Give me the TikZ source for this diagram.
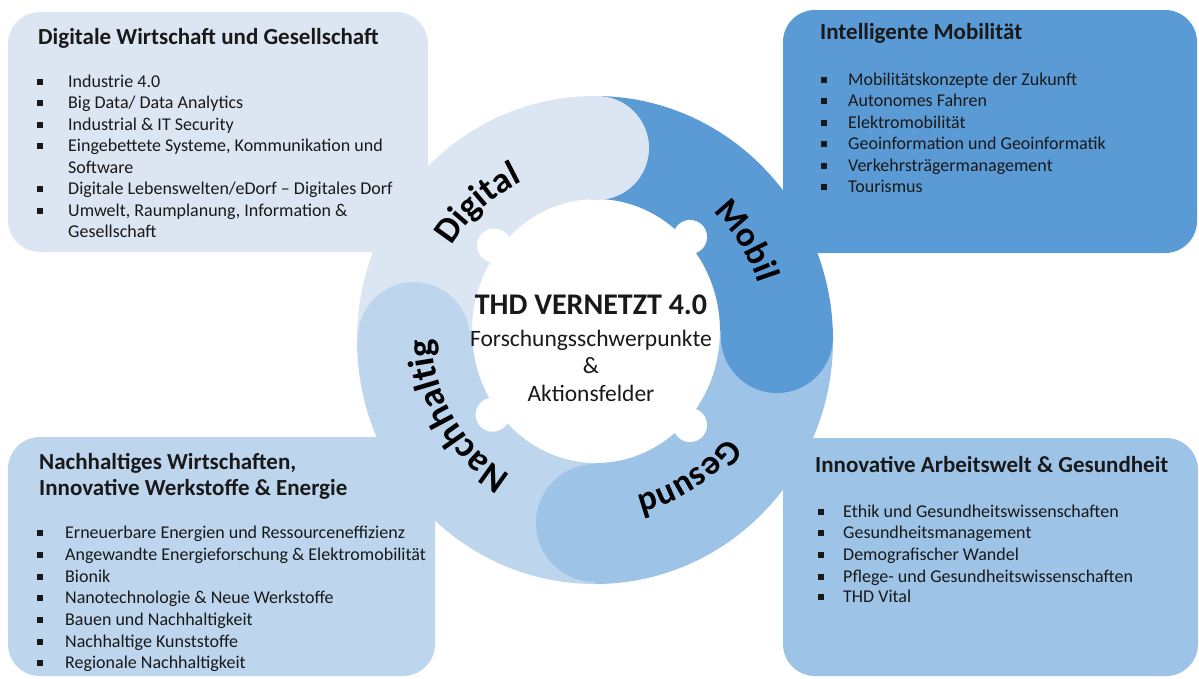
\documentclass[tikz,border=0pt]{standalone}
\usepackage{fontspec}
\setmainfont{Carlito}
\usetikzlibrary{decorations.text,calc}
\definecolor{cDig}{RGB}{220,230,242}
\definecolor{cMob}{RGB}{91,155,213}
\definecolor{cGes}{RGB}{157,195,230}
\definecolor{cNach}{RGB}{189,214,238}
\definecolor{txt}{RGB}{25,25,25}
\newcommand\li[5]{\node[lt] (#1) at (#2,-#3) {\makebox[#4][l]{\rule[2.5pt]{6pt}{6pt}}#5};}
\newcommand\lc[5]{\node[lt] (#1) at (#2,-#3) {\hspace*{#4}#5};}
\begin{document}
\begin{tikzpicture}[x=1pt,y=1pt,
  lt/.style={anchor=base west, inner sep=0pt, font=\fontsize{18}{18}\selectfont, text=txt},
  tt/.style={anchor=base west, inner sep=0pt, font=\fontsize{23}{23}\selectfont\bfseries, text=txt},
  ct/.style={anchor=base, inner sep=0pt, text=txt},
  ringlabel/.style 2 args={decorate, decoration={text along path, text align=center, text={|\fontsize{#1}{#1}\selectfont\bfseries|#2}}}]
\useasboundingbox (0,0) rectangle (1199,-678);
\fill[white] (0,0) rectangle (1199,-678);
% boxes
\fill[cDig, rounded corners=32pt] (8,-12) rectangle (428,-252);
\fill[cMob, rounded corners=32pt] (783,-10) rectangle (1197,-253);
\fill[cNach, rounded corners=32pt] (8,-437) rectangle (435,-676);
\fill[cGes, rounded corners=32pt] (783,-438) rectangle (1198,-676);
% ring: outer ellipse around O, inner ellipse around I
\coordinate (O) at (595,-340);
\coordinate (I) at (596,-331);
\fill[cDig] ($(O)+(-238,0)$) arc[start angle=180,end angle=90,x radius=238,y radius=244] -- ($(I)+(0,132)$) arc[start angle=90,end angle=180,x radius=124,y radius=132] -- cycle;
\fill[cMob] ($(O)+(0,244)$) arc[start angle=90,end angle=0,x radius=238,y radius=244] -- ($(I)+(124,0)$) arc[start angle=0,end angle=90,x radius=124,y radius=132] -- cycle;
\fill[cGes] ($(O)+(238,0)$) arc[start angle=0,end angle=-90,x radius=238,y radius=244] -- ($(I)+(0,-132)$) arc[start angle=-90,end angle=0,x radius=124,y radius=132] -- cycle;
\fill[cNach] ($(O)+(0,-244)$) arc[start angle=-90,end angle=-180,x radius=238,y radius=244] -- ($(I)+(-124,0)$) arc[start angle=-180,end angle=-90,x radius=124,y radius=132] -- cycle;
\fill[cDig] (597,-148) circle[radius=52];
\fill[cMob] (777,-337) circle[radius=56];
\fill[cGes] (595,-523) circle[radius=59];
\fill[cNach] (414,-338) circle[radius=56];
\foreach \a in {140,45,-45,-141}{\fill[white] ($(I)+(\a:133)$) circle[radius=17];}
% ring labels
\coordinate (L) at (596,-335);
\path[ringlabel={36}{Digital}] ($(L)+(166:170)$) arc[start angle=166,end angle=98,radius=170];
\path[ringlabel={35}{Mobil}] ($(L)+(64:170)$) arc[start angle=64,end angle=0,radius=170];
\path[ringlabel={35}{Gesund}] ($(L)+(-25:166)$) arc[start angle=-25,end angle=-89,radius=166];
\path[ringlabel={37}{Nachhaltig}] ($(L)+(245:164)$) arc[start angle=245,end angle=175,radius=164];
% center text
\node[ct, font=\fontsize{30}{30}\selectfont\bfseries] (c1) at (591,-314.5) {THD VERNETZT 4.0};
\node[ct, font=\fontsize{23.5}{23.5}\selectfont] (c2) at (591,-346) {Forschungsschwerpunkte};
\node[ct, font=\fontsize{23.5}{23.5}\selectfont] (c3) at (591,-373) {\&};
\node[ct, font=\fontsize{23.5}{23.5}\selectfont] (c4) at (591,-401) {Aktionsfelder};
% top-left
\node[tt] (t1) at (38,-44) {Digitale Wirtschaft und Gesellschaft};
\li{a1}{37}{87}{31pt}{Industrie 4.0}
\li{a2}{37}{108.5}{31pt}{Big Data/ Data Analytics}
\li{a3}{37}{130}{31pt}{Industrial \& IT Security}
\li{a4}{37}{151.5}{31pt}{Eingebettete Systeme, Kommunikation und}
\lc{a4b}{37}{173}{31pt}{Software}
\li{a5}{37}{194.5}{31pt}{Digitale Lebenswelten/eDorf -- Digitales Dorf}
\li{a6}{37}{216}{31pt}{Umwelt, Raumplanung, Information \&}
\lc{a6b}{37}{237.5}{31pt}{Gesellschaft}
% top-right
\node[tt] (t2) at (820,-39) {Intelligente Mobilität};
\li{b1}{821}{85}{27pt}{Mobilitätskonzepte der Zukunft}
\li{b2}{821}{106.5}{27pt}{Autonomes Fahren}
\li{b3}{821}{128}{27pt}{Elektromobilität}
\li{b4}{821}{149.5}{27pt}{Geoinformation und Geoinformatik}
\li{b5}{821}{171}{27pt}{Verkehrsträgermanagement}
\li{b6}{821}{192.5}{27pt}{Tourismus}
% bottom-left
\node[tt] (t3) at (39,-469) {Nachhaltiges Wirtschaften,};
\node[tt] (t3b) at (39,-495) {Innovative Werkstoffe \& Energie};
\li{d1}{37}{538}{28pt}{Erneuerbare Energien und Ressourceneffizienz}
\li{d2}{37}{560}{28pt}{Angewandte Energieforschung \& Elektromobilität}
\li{d3}{37}{582}{28pt}{Bionik}
\li{d4}{37}{603}{28pt}{Nanotechnologie \& Neue Werkstoffe}
\li{d5}{37}{625}{28pt}{Bauen und Nachhaltigkeit}
\li{d6}{37}{647}{28pt}{Nachhaltige Kunststoffe}
\li{d7}{37}{668}{28pt}{Regionale Nachhaltigkeit}
% bottom-right
\node[tt] (t4) at (815,-472) {Innovative Arbeitswelt \& Gesundheit};
\li{e1}{818}{517}{25pt}{Ethik und Gesundheitswissenschaften}
\li{e2}{818}{538}{25pt}{Gesundheitsmanagement}
\li{e3}{818}{560}{25pt}{Demografischer Wandel}
\li{e4}{818}{582}{25pt}{Pflege- und Gesundheitswissenschaften}
\li{e5}{818}{602}{25pt}{THD Vital}
\end{tikzpicture}
\end{document}
